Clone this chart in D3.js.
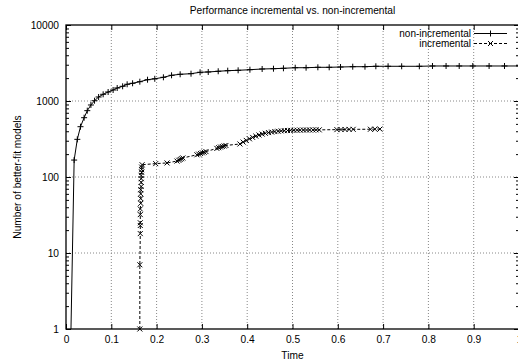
<!DOCTYPE html>
<html>
<head>
<meta charset="utf-8">
<script src="https://cdn.jsdelivr.net/npm/d3@7.9.0/dist/d3.min.js"></script>
<style>
  body { margin: 0; background: #fff; }
  svg { display: block; font-family: "Liberation Sans", Arial, sans-serif; }
  .axis text { font-size: 10.2px; fill: #000; }
  .axis path { display: none; }
  .axis line { stroke: #000; }
  .grid line { stroke: #888; stroke-dasharray: 1,2; }
</style>
</head>
<body>
<svg width="518" height="364"></svg>
<script>
// chart text
const title = "Performance incremental vs. non-incremental";
const xLabel = "Time";
const yLabel = "Number of better-fit models";
const seriesNames = ["non-incremental", "incremental"];

// ticks
const xTicks = [0, 0.1, 0.2, 0.3, 0.4, 0.5, 0.6, 0.7, 0.8, 0.9, 1];
const yTicks = [1, 10, 100, 1000, 10000];

// non-incremental series
const nonIncTime = [0.011, 0.018, 0.025, 0.032, 0.040, 0.047, 0.055, 0.063, 0.072, 0.082,
  0.093, 0.104, 0.113, 0.125, 0.135, 0.147, 0.163, 0.180, 0.196, 0.215,
  0.233, 0.252, 0.276, 0.296, 0.314, 0.336, 0.357, 0.380, 0.406, 0.433,
  0.458, 0.480, 0.506, 0.530, 0.556, 0.581, 0.606, 0.633, 0.660, 0.684,
  0.711, 0.741, 0.780, 0.809, 0.839, 0.868, 0.898, 0.934, 0.968, 1.0];
const nonIncCount = [1, 167, 313, 459, 603, 746, 886, 1009, 1129, 1225,
  1313, 1396, 1483, 1561, 1660, 1710, 1795, 1906, 1960, 2050,
  2178, 2246, 2287, 2387, 2409, 2461, 2506, 2535, 2582, 2637,
  2661, 2693, 2742, 2742, 2775, 2775, 2801, 2827, 2827, 2862,
  2862, 2862, 2862, 2888, 2888, 2888, 2888, 2888, 2888, 2890];

// incremental series
const incTime = [0.163, 0.163, 0.164, 0.164, 0.164, 0.164, 0.164, 0.165, 0.165, 0.165,
  0.165, 0.166, 0.166, 0.166, 0.166, 0.167, 0.167, 0.167, 0.168,
  0.198, 0.223, 0.245, 0.249, 0.252, 0.255, 0.258,
  0.289, 0.293, 0.297, 0.301, 0.305, 0.309,
  0.333, 0.337, 0.341, 0.345, 0.349, 0.353,
  0.384, 0.391, 0.398, 0.405, 0.412, 0.419, 0.426, 0.433, 0.440, 0.447,
  0.454, 0.461, 0.468, 0.475, 0.482, 0.489, 0.496, 0.503, 0.510, 0.517,
  0.524, 0.531, 0.538, 0.545, 0.552, 0.559,
  0.598, 0.607, 0.616, 0.625, 0.634, 0.672, 0.682, 0.693];
const incCount = [1, 7, 18, 23, 25, 32, 38, 45, 52, 60,
  68, 75, 85, 95, 105, 115, 125, 135, 145,
  150, 153, 162, 166, 170, 174, 178,
  196, 200, 204, 208, 212, 216,
  238, 243, 248, 252, 256, 260,
  272, 288, 303, 318, 332, 345, 357, 367, 376, 384,
  390, 396, 400, 404, 407, 409, 411, 412, 413, 414,
  415, 415, 416, 416, 417, 417,
  420, 421, 422, 423, 424, 425, 426, 427];

const svg = d3.select("svg");
const pLeft = 66, pRight = 519, pTop = 25, pBottom = 329;

const x = d3.scaleLinear().domain([0, 1]).range([pLeft, pRight]);
const y = d3.scaleLog().domain([1, 10000]).range([pBottom, pTop]);

const yMinor = [];
yTicks.slice(0, -1).forEach(d => { for (let k = 2; k <= 9; k++) yMinor.push(d * k); });

// grid
svg.append("g").attr("class", "grid")
  .selectAll("line").data(xTicks.slice(1, -1)).join("line")
  .attr("x1", d => x(d)).attr("x2", d => x(d)).attr("y1", pTop).attr("y2", pBottom);
svg.append("g").attr("class", "grid")
  .selectAll("line").data(yTicks.slice(1, -1)).join("line")
  .attr("x1", pLeft).attr("x2", pRight).attr("y1", d => y(d)).attr("y2", d => y(d));

// axes with inward ticks
svg.append("g").attr("class", "axis").attr("transform", `translate(0,${pBottom})`)
  .call(d3.axisBottom(x).tickValues(xTicks).tickSize(-5).tickPadding(7).tickFormat(d3.format("~g")));
svg.append("g").attr("class", "axis").attr("transform", `translate(0,${pTop})`)
  .call(d3.axisTop(x).tickValues(xTicks).tickSize(-5).tickFormat(""));
svg.append("g").attr("class", "axis").attr("transform", `translate(${pLeft},0)`)
  .call(d3.axisLeft(y).tickValues(yTicks).tickSize(-5).tickPadding(7).tickFormat(d3.format("d")));
svg.append("g").attr("class", "axis").attr("transform", `translate(${pLeft},0)`)
  .call(d3.axisLeft(y).tickValues(yMinor).tickSize(-3).tickFormat(""));
svg.append("g").attr("class", "axis").attr("transform", `translate(${pRight},0)`)
  .call(d3.axisRight(y).tickValues(yTicks).tickSize(-5).tickFormat(""));
svg.append("g").attr("class", "axis").attr("transform", `translate(${pRight},0)`)
  .call(d3.axisRight(y).tickValues(yMinor).tickSize(-3).tickFormat(""));

// border
svg.append("rect")
  .attr("x", pLeft).attr("y", pTop).attr("width", pRight - pLeft).attr("height", pBottom - pTop)
  .attr("fill", "none").attr("stroke", "#000").attr("stroke-width", 1.3);

const line = d3.line().x(d => x(d[0])).y(d => y(d[1]));
const nonInc = nonIncTime.map((t, i) => [t, nonIncCount[i]]);
const inc = incTime.map((t, i) => [t, incCount[i]]);

const plus = (g, cx, cy, s) => g.append("path")
  .attr("d", `M${cx - s},${cy}H${cx + s}M${cx},${cy - s}V${cy + s}`)
  .attr("stroke", "#000").attr("stroke-width", 1);
const cross = (g, cx, cy, s) => g.append("path")
  .attr("d", `M${cx - s},${cy - s}L${cx + s},${cy + s}M${cx - s},${cy + s}L${cx + s},${cy - s}`)
  .attr("stroke", "#000").attr("stroke-width", 1);

svg.append("defs").append("clipPath").attr("id", "clip")
  .append("rect").attr("x", pLeft).attr("y", pTop - 4).attr("width", pRight - pLeft).attr("height", pBottom - pTop + 8);
const plot = svg.append("g").attr("clip-path", "url(#clip)");

plot.append("path").datum(nonInc).attr("d", line)
  .attr("fill", "none").attr("stroke", "#000").attr("stroke-width", 1);
nonInc.slice(1).forEach(d => plus(plot, x(d[0]), y(d[1]), 3));

plot.append("path").datum(inc).attr("d", line)
  .attr("fill", "none").attr("stroke", "#000").attr("stroke-width", 1)
  .attr("stroke-dasharray", "3,2");
inc.forEach(d => cross(plot, x(d[0]), y(d[1]), 2.5));

// legend
const legend = svg.append("g").attr("font-size", "10px");
seriesNames.forEach((name, i) => {
  const ly = 33.5 + i * 10;
  legend.append("text").attr("x", 471).attr("y", ly + 3.6)
    .attr("text-anchor", "end").text(name);
  legend.append("line").attr("x1", 474).attr("x2", 507).attr("y1", ly).attr("y2", ly)
    .attr("stroke", "#000").attr("stroke-dasharray", i ? "3,2" : null);
  if (i) cross(legend, 490.5, ly, 2.5); else plus(legend, 490.5, ly, 3);
});

// title and axis labels
svg.append("text").attr("x", (pLeft + pRight) / 2).attr("y", 13.5)
  .attr("text-anchor", "middle").attr("font-size", "10.2px").text(title);
svg.append("text").attr("x", (pLeft + pRight) / 2).attr("y", 359)
  .attr("text-anchor", "middle").attr("font-size", "10.2px").text(xLabel);
svg.append("text").attr("transform", `translate(21,${(pTop + pBottom) / 2}) rotate(-90)`)
  .attr("text-anchor", "middle").attr("font-size", "10.2px").text(yLabel);
</script>
</body>
</html>
